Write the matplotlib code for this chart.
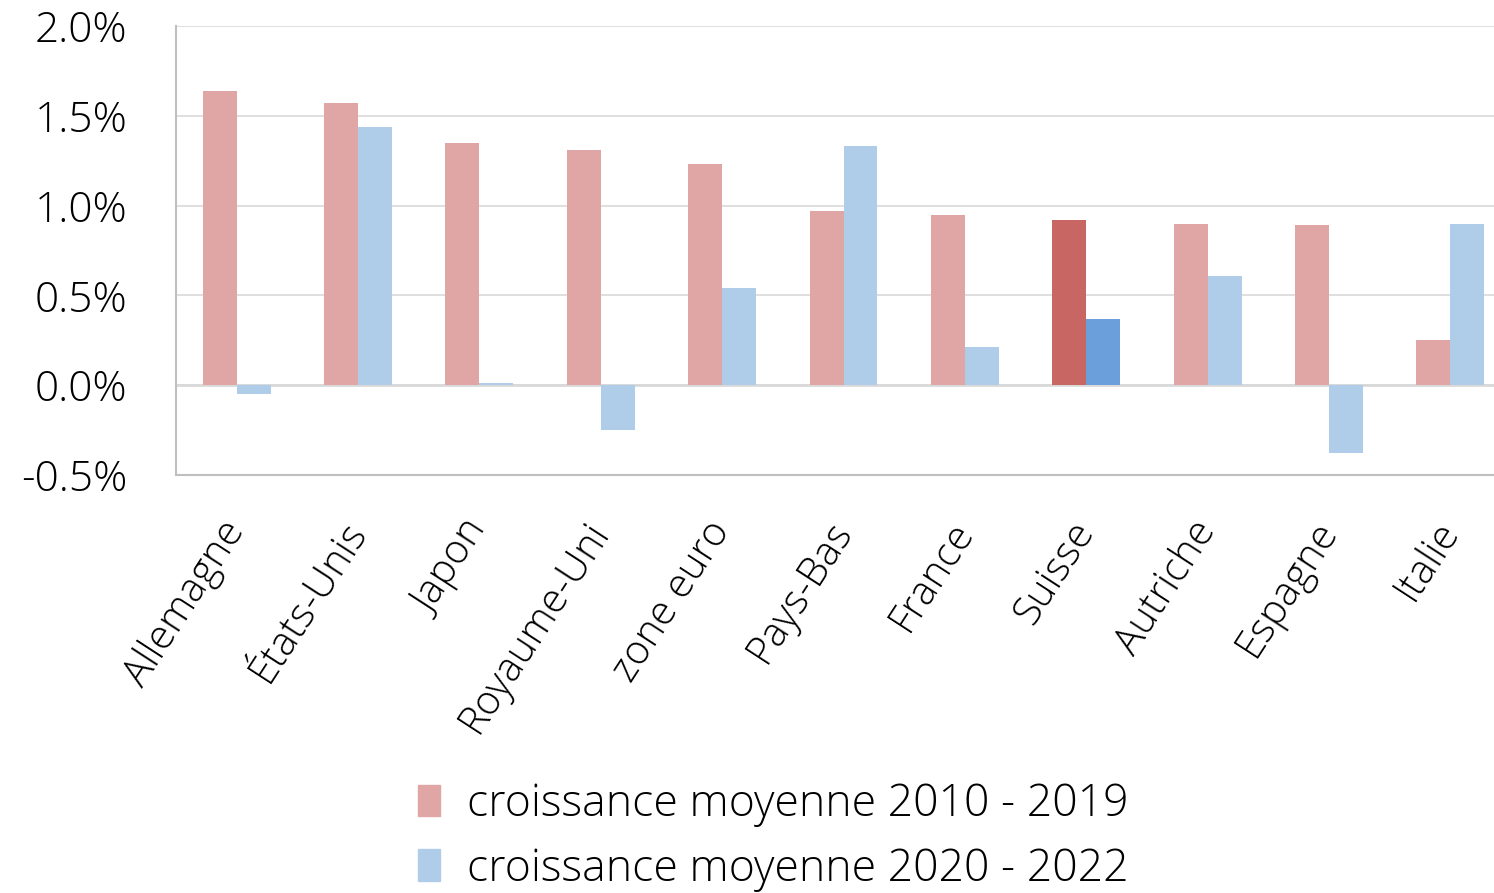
import matplotlib
matplotlib.use("Agg")
import matplotlib.pyplot as plt
from matplotlib.ticker import FuncFormatter, MultipleLocator
from matplotlib.patches import Patch
import numpy as np

categories = ["Allemagne", "États-Unis", "Japon", "Royaume-Uni", "zone euro", "Pays-Bas",
              "France", "Suisse", "Autriche", "Espagne", "Italie"]
growth_2010_2019 = [1.64, 1.57, 1.35, 1.31, 1.23, 0.97, 0.95, 0.92, 0.90, 0.89, 0.25]
growth_2020_2022 = [-0.05, 1.44, 0.01, -0.25, 0.54, 1.33, 0.21, 0.37, 0.61, -0.38, 0.90]
series_labels = ["croissance moyenne 2010 - 2019", "croissance moyenne 2020 - 2022"]

plt.rcParams['font.family'] = ['Open Sans', 'DejaVu Sans']
plt.rcParams['font.weight'] = 'light'

c_red, c_blue = "#E0A6A6", "#AFCCE8"
c_red_h, c_blue_h = "#C86664", "#6B9FDB"
highlight = "Suisse"

fig = plt.figure(figsize=(14.94, 8.93), dpi=100)
W, H = 1494, 893
ax = fig.add_axes([176 / W, 1 - 475 / H, (1511 - 176) / W, (475 - 26) / H])

x = np.arange(len(categories))
bw = 0.28
cols1 = [c_red_h if c == highlight else c_red for c in categories]
cols2 = [c_blue_h if c == highlight else c_blue for c in categories]
ax.bar(x - bw / 2, growth_2010_2019, bw, color=cols1, zorder=3)
ax.bar(x + bw / 2, growth_2020_2022, bw, color=cols2, zorder=3)

ax.set_xlim(-0.5, len(categories) - 0.5)
ax.set_ylim(-0.5, 2.0)
ax.yaxis.set_major_locator(MultipleLocator(0.5))
ax.yaxis.set_major_formatter(FuncFormatter(lambda v, p: f"{v:.1f}%"))
ax.grid(axis='y', color="#D9D9D9", linewidth=1.2, zorder=0)
ax.axhline(0, color="#D9D9D9", linewidth=2, zorder=2)
for s in ["top", "right"]:
    ax.spines[s].set_visible(False)
for s in ["left", "bottom"]:
    ax.spines[s].set_color("#BFBFBF")
    ax.spines[s].set_linewidth(1.5)

ax.tick_params(axis='y', length=0, pad=35, labelsize=30.5, labelcolor='black')
ax.tick_params(axis='x', length=0, pad=36, labelsize=29, labelcolor='black')
ax.set_xticks(x)
ax.set_xticklabels(categories, rotation=57, ha='right', va='center', rotation_mode='anchor')

handles = [Patch(color=c_red), Patch(color=c_blue)]
fig.legend(handles, series_labels, loc='center', bbox_to_anchor=(773 / W, 1 - 837 / H),
           ncol=1, frameon=False, fontsize=32, handlelength=0.5, handleheight=0.7,
           handletextpad=0.6, labelspacing=0.45, borderpad=0.1)

fig.savefig("out.png", dpi=100)
